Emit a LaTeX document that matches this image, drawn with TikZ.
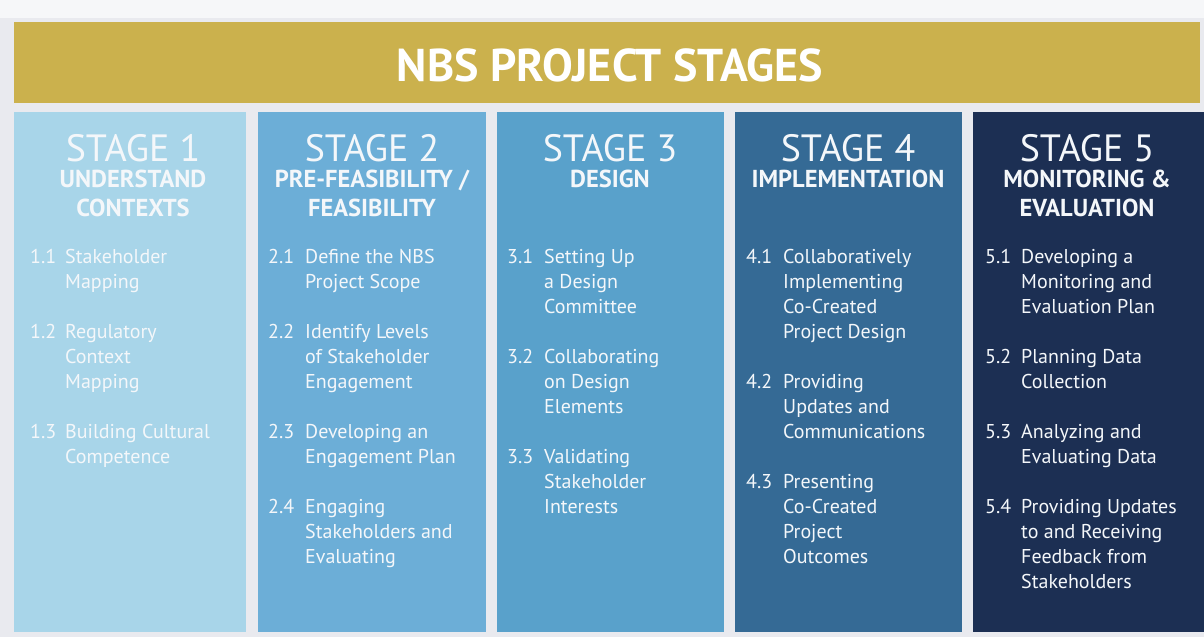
\documentclass[tikz,border=0pt]{standalone}
\usepackage{fontspec}
\setmainfont{PT Sans}
\definecolor{bgc}{HTML}{E9EAEF}
\definecolor{gold}{HTML}{CBB14D}
\definecolor{cA}{HTML}{A8D5E9}
\definecolor{cB}{HTML}{6CAED7}
\definecolor{cC}{HTML}{59A1CB}
\definecolor{cD}{HTML}{356A95}
\definecolor{cE}{HTML}{1C2F53}
\definecolor{txt}{HTML}{F4F7FA}
\newcommand\itemlines[1]{\begin{tabular}[t]{@{}l@{}}#1\end{tabular}}
\tikzset{
  stagetitle/.style={text=txt, inner sep=0pt, anchor=base, text depth=0pt, font=\fontsize{38}{42}\selectfont},
  stagesub/.style={text=txt, inner sep=0pt, anchor=north, align=center, font=\fontsize{24.5}{29}\selectfont\bfseries},
  num/.style={text=txt, inner sep=0pt, anchor=base west, font=\fontsize{20}{25}\selectfont},
  item/.style={text=txt, inner sep=0pt, anchor=base west, font=\fontsize{20}{25}\selectfont},
}
\begin{document}
\begin{tikzpicture}[x=1pt,y=-1pt]
\useasboundingbox (0,0) rectangle (1204,637);
\fill[bgc] (0,0) rectangle (1204,637);
\fill[white!60!bgc] (0,0) rectangle (1204,18);
% banner
\fill[gold] (14,22) rectangle (1200,103);
\node[text=white, font=\fontsize{46}{50}\selectfont\bfseries, inner sep=0pt] (banner) at (610,65) {NBS PROJECT STAGES};
% columns
\fill[cA] (14,112) rectangle (246,632);
\fill[cB] (258,112) rectangle (486,632);
\fill[cC] (497,112) rectangle (724,632);
\fill[cD] (735,112) rectangle (962,632);
\fill[cE] (973,112) rectangle (1204,632);
% stage titles
\node[stagetitle] (s1) at (133,161) {STAGE 1};
\node[stagetitle] (s2) at (372,161) {STAGE 2};
\node[stagetitle] (s3) at (610,161) {STAGE 3};
\node[stagetitle] (s4) at (848,161) {STAGE 4};
\node[stagetitle] (s5) at (1087,161) {STAGE 5};
\node[stagesub] (t1) at (133,170) {UNDERSTAND\\CONTEXTS};
\node[stagesub] (t2) at (372,170) {PRE-FEASIBILITY /\\FEASIBILITY};
\node[stagesub] (t3) at (610,170) {DESIGN};
\node[stagesub] (t4) at (848,170) {IMPLEMENTATION};
\node[stagesub] (t5) at (1087,170) {MONITORING \&\\EVALUATION};
% stage 1 items
\node[num] (n11) at (30,263) {1.1};
\node[item] (i11) at (65,263) {\itemlines{Stakeholder\\Mapping}};
\node[num] (n12) at (30,338) {1.2};
\node[item] (i12) at (65,338) {\itemlines{Regulatory\\Context\\Mapping}};
\node[num] (n13) at (30,438) {1.3};
\node[item] (i13) at (65,438) {\itemlines{Building Cultural\\Competence}};
% stage 2 items
\node[num] (n21) at (268,263) {2.1};
\node[item] (i21) at (305,263) {\itemlines{Define the NBS\\Project Scope}};
\node[num] (n22) at (268,338) {2.2};
\node[item] (i22) at (305,338) {\itemlines{Identify Levels\\of Stakeholder\\Engagement}};
\node[num] (n23) at (268,438) {2.3};
\node[item] (i23) at (305,438) {\itemlines{Developing an\\Engagement Plan}};
\node[num] (n24) at (268,513) {2.4};
\node[item] (i24) at (305,513) {\itemlines{Engaging\\Stakeholders and\\Evaluating}};
% stage 3 items
\node[num] (n31) at (507,263) {3.1};
\node[item] (i31) at (544,263) {\itemlines{Setting Up\\a Design\\Committee}};
\node[num] (n32) at (507,363) {3.2};
\node[item] (i32) at (544,363) {\itemlines{Collaborating\\on Design\\Elements}};
\node[num] (n33) at (507,463) {3.3};
\node[item] (i33) at (544,463) {\itemlines{Validating\\Stakeholder\\Interests}};
% stage 4 items
\node[num] (n41) at (746,263) {4.1};
\node[item] (i41) at (783,263) {\itemlines{Collaboratively\\Implementing\\Co-Created\\Project Design}};
\node[num] (n42) at (746,388) {4.2};
\node[item] (i42) at (783,388) {\itemlines{Providing\\Updates and\\Communications}};
\node[num] (n43) at (746,488) {4.3};
\node[item] (i43) at (783,488) {\itemlines{Presenting\\Co-Created\\Project\\Outcomes}};
% stage 5 items
\node[num] (n51) at (985,263) {5.1};
\node[item] (i51) at (1021,263) {\itemlines{Developing a\\Monitoring and\\Evaluation Plan}};
\node[num] (n52) at (985,363) {5.2};
\node[item] (i52) at (1021,363) {\itemlines{Planning Data\\Collection}};
\node[num] (n53) at (985,438) {5.3};
\node[item] (i53) at (1021,438) {\itemlines{Analyzing and\\Evaluating Data}};
\node[num] (n54) at (985,513) {5.4};
\node[item] (i54) at (1021,513) {\itemlines{Providing Updates\\to and Receiving\\Feedback from\\Stakeholders}};
\end{tikzpicture}
\end{document}
